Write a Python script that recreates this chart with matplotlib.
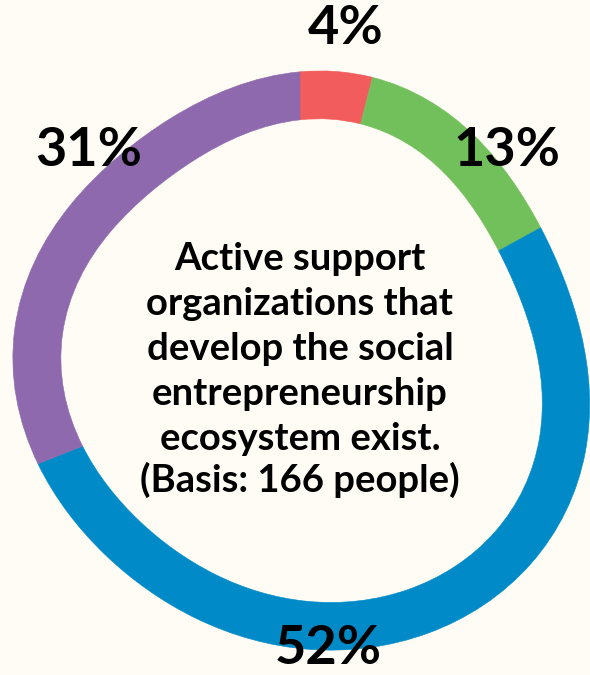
import matplotlib.pyplot as plt
import numpy as np
from matplotlib.patches import Polygon

# share of respondents per answer, clockwise from the top
shares = [4, 13, 52, 31]
labels = ["4%", "13%", "52%", "31%"]
colors = ["#F25C5C", "#72C05B", "#008BC8", "#8E69AD"]

question_lines = [
    "Active support",
    "organizations that",
    "develop the social",
    "entrepreneurship",
    "ecosystem exist.",
]
basis = "(Basis: 166 people)"

W, H = 590, 675
bg = "#FEFCF4"
cx, cy = 300, H - 360

# hand-drawn look: radial wobble of the ring (px) every 30 degrees,
# counter-clockwise from east
wobble = [-2, -13, 0, 0, -14, -10, 0, -10, -11, 0, 16, 18]


def wobble_fn(n_harm=4):
    ang = np.deg2rad(np.arange(0, 360, 30))
    cols = [np.ones_like(ang)]
    for k in range(1, n_harm + 1):
        cols += [np.cos(k * ang), np.sin(k * ang)]
    coef, *_ = np.linalg.lstsq(np.column_stack(cols), np.array(wobble, float), rcond=None)

    def f(phi):
        out = coef[0] * np.ones_like(phi)
        for k in range(1, n_harm + 1):
            out += coef[2 * k - 1] * np.cos(k * phi) + coef[2 * k] * np.sin(k * phi)
        return out

    return f


plt.rcParams["font.family"] = ["Lato", "DejaVu Sans"]

fig = plt.figure(figsize=(W / 100, H / 100), dpi=100, facecolor=bg)
ax = fig.add_axes([0, 0, 1, 1])
ax.set_facecolor(bg)

wedges, _ = ax.pie(
    shares,
    colors=colors,
    startangle=90,
    counterclock=False,
    radius=288,
    center=(cx, cy),
    wedgeprops=dict(width=48, linewidth=0),
)

# push each wedge outline in/out along the radius
f = wobble_fn()
for w in wedges:
    verts = w.get_path().to_polygons()[0]
    dx, dy = verts[:, 0] - cx, verts[:, 1] - cy
    r = np.hypot(dx, dy)
    phi = np.arctan2(dy, dx)
    r2 = r + f(phi)
    new = np.column_stack([cx + r2 * np.cos(phi), cy + r2 * np.sin(phi)])
    ax.add_patch(Polygon(new, closed=True, facecolor=w.get_facecolor(),
                         edgecolor=w.get_facecolor(), linewidth=0.4))
    w.remove()

ax.set_xlim(0, W)
ax.set_ylim(0, H)
ax.set_aspect("equal")
ax.axis("off")

# percentage labels around the ring
label_pos = {"4%": (346, 28), "13%": (507, 150), "52%": (328, 649), "31%": (89, 150)}
for lab in labels:
    x, y = label_pos[lab]
    ax.text(x, H - y, lab, ha="center", va="center", fontsize=39,
            fontweight="bold", color="black")

for i, line in enumerate(question_lines):
    ax.text(300, H - (270 + 45 * i), line, ha="center", va="baseline",
            fontsize=27.5, fontweight="bold", color="black")
ax.text(300, H - 492, basis, ha="center", va="baseline", fontsize=27.5,
        fontweight="bold", color="black")

fig.savefig("out.png", dpi=100, facecolor=bg)
